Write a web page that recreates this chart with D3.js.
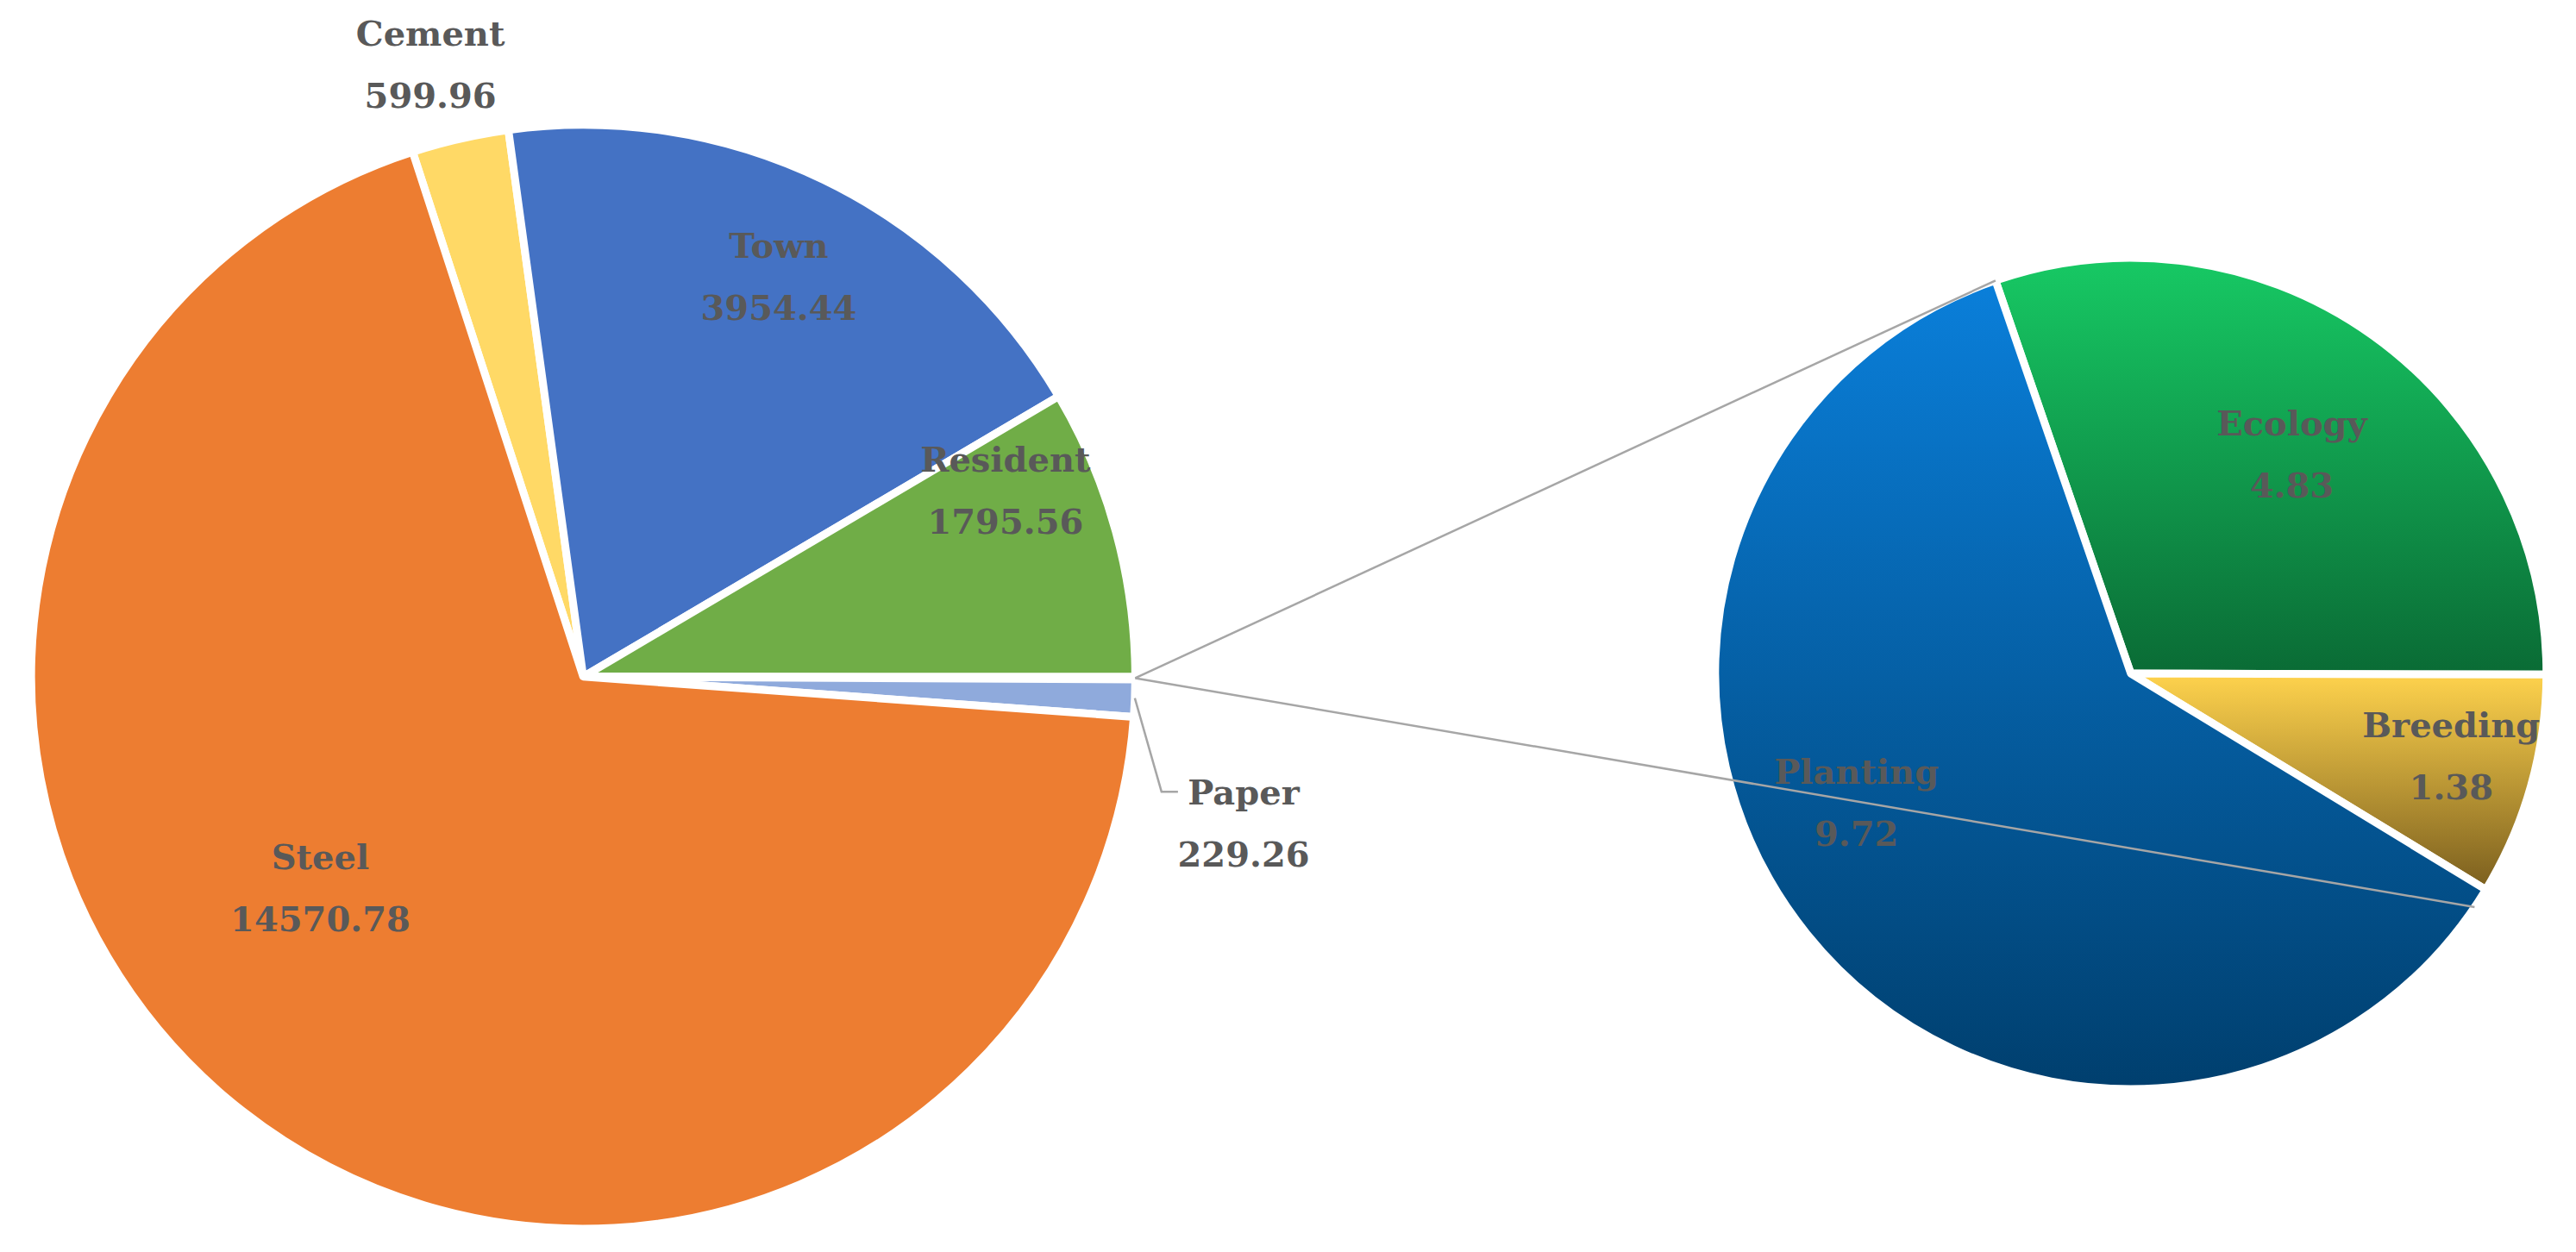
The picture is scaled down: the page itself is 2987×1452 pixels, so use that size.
<!DOCTYPE html>
<html><head><meta charset="utf-8">
<script src="https://cdn.jsdelivr.net/npm/d3@7"></script>
<style>body{margin:0;background:#fff}text{font-family:"DejaVu Serif","Liberation Serif",serif;font-weight:bold;fill:#595959}</style>
</head><body><svg id="c" width="2987" height="1452"></svg>
<script>
const mainCats = ["Cement","Town","Resident","Other","Paper","Steel"];
const mainVals = [599.96,3954.44,1795.56,15.93,229.26,14570.78];
const mainColors = ["#FFD966","#4472C4","#70AD47","#ffffff","#8FAADC","#ED7D31"];
const subCats = ["Ecology","Breeding","Planting"];
const subVals = [4.83,1.38,9.72];
const subColors = [["#17C964","#0A6B35"],["#FFD34D","#7A5E1E"],["#0A7FDA","#003F6E"]];

const k = 1.905;
const svg = d3.select("#c");
const defs = svg.append("defs");
const fmt = v => v.toFixed(2);

// main pie
const mc = [355*k, 412*k], mr = 336*k;
const startA = -18*Math.PI/180;
const mpie = d3.pie().sort(null).startAngle(startA).endAngle(startA+2*Math.PI)(mainVals);
const marc = d3.arc().innerRadius(0).outerRadius(mr);
const gm = svg.append("g").attr("transform",`translate(${mc})`);
gm.selectAll("path").data(mpie).join("path")
  .attr("d",marc).attr("fill",(d,i)=>mainColors[i])
  .attr("stroke","#fff").attr("stroke-width",9).attr("stroke-linejoin","round");

// sub pie
const sc = [1297*k, 410*k], sr = 253*k;
const sStart = -19*Math.PI/180;
const spie = d3.pie().sort(null).startAngle(sStart).endAngle(sStart+2*Math.PI)(subVals);
const sarc = d3.arc().innerRadius(0).outerRadius(sr);
subColors.forEach((c,i)=>{
  const g = defs.append("linearGradient").attr("id","g"+i).attr("x1",0).attr("y1",0).attr("x2",0).attr("y2",1);
  g.append("stop").attr("offset","0%").attr("stop-color",c[0]);
  g.append("stop").attr("offset","100%").attr("stop-color",c[1]);
});
const gs = svg.append("g").attr("transform",`translate(${sc})`);
gs.selectAll("path").data(spie).join("path")
  .attr("d",sarc).attr("fill",(d,i)=>`url(#g${i})`)
  .attr("stroke","#fff").attr("stroke-width",9).attr("stroke-linejoin","round");

// connectors from "Other" slice
const o = mpie[3], oa = (o.startAngle+o.endAngle)/2;
const op = [mc[0]+mr*Math.sin(oa), mc[1]-mr*Math.cos(oa)];
const tA = spie[2].endAngle, bA = spie[2].startAngle + 0.05;
[[tA],[bA]].forEach(([a])=>{
  svg.append("line").attr("x1",op[0]).attr("y1",op[1])
    .attr("x2",sc[0]+sr*Math.sin(a)).attr("y2",sc[1]-sr*Math.cos(a))
    .attr("stroke","#A6A6A6").attr("stroke-width",2.5);
});

// paper leader
const pa = (mpie[4].startAngle+mpie[4].endAngle)/2;
const pp = [mc[0]+mr*Math.sin(pa), mc[1]-mr*Math.cos(pa)];
svg.append("polyline").attr("points",`${pp} ${707*k},${482*k} ${717*k},${482*k}`)
  .attr("fill","none").attr("stroke","#A6A6A6").attr("stroke-width",2.5);

function label(x,y,name,val,anchor){
  const t = svg.append("text").attr("x",x*k).attr("y",y*k).attr("text-anchor",anchor||"middle").attr("font-size",40);
  t.append("tspan").attr("x",x*k).text(name);
  t.append("tspan").attr("x",x*k).attr("dy",72).text(fmt(val));
}
label(262,28,mainCats[0],mainVals[0]);
label(474,157,mainCats[1],mainVals[1]);
label(612,287,mainCats[2],mainVals[2]);
label(195,529,mainCats[5],mainVals[5]);
label(757,490,mainCats[4],mainVals[4]);
label(1395,265,subCats[0],subVals[0]);
label(1492,449,subCats[1],subVals[1]);
label(1130,477,subCats[2],subVals[2]);
</script></body></html>
